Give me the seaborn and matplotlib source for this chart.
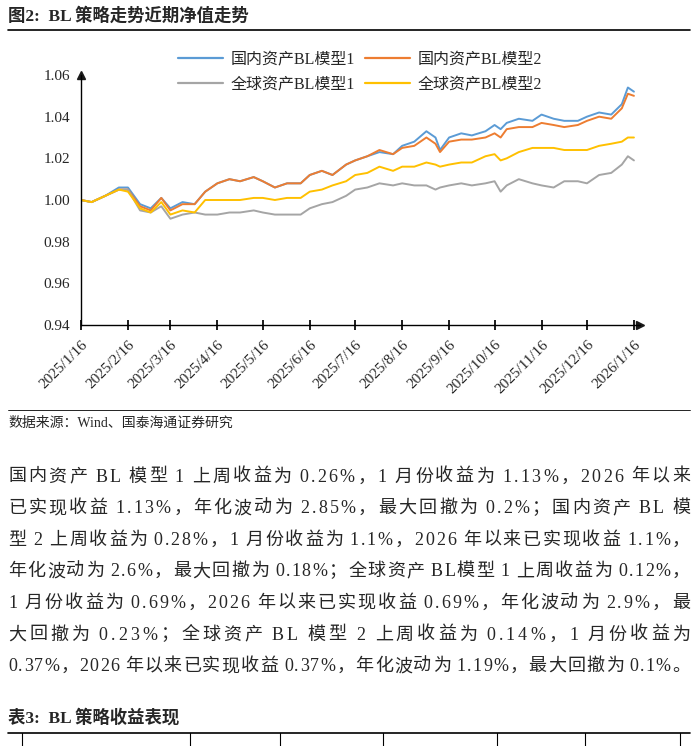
import matplotlib
matplotlib.use("Agg")
import matplotlib.pyplot as plt
import seaborn as sns
import pandas as pd

sns.set_theme(style="white")
plt.rcParams['font.family'] = ['Liberation Serif', 'Noto Sans CJK SC', 'DejaVu Sans']

dates = ["2025-01-16","2025-01-23","2025-02-01","2025-02-10","2025-02-16","2025-02-24","2025-03-03","2025-03-10",
"2025-03-16","2025-03-24","2025-04-01","2025-04-08","2025-04-16","2025-04-24","2025-05-01","2025-05-10","2025-05-16",
"2025-05-24","2025-06-01","2025-06-10","2025-06-16","2025-06-24","2025-07-01","2025-07-10","2025-07-16","2025-07-24",
"2025-08-01","2025-08-10","2025-08-16","2025-08-24","2025-09-01","2025-09-07","2025-09-10","2025-09-16","2025-09-24",
"2025-10-01","2025-10-10","2025-10-16","2025-10-20","2025-10-24","2025-11-01","2025-11-10","2025-11-16","2025-11-24",
"2025-12-01","2025-12-10","2025-12-16","2025-12-24","2026-01-01","2026-01-08","2026-01-12","2026-01-16"]
dom1 = [1.000,0.999,1.002,1.006,1.006,0.998,0.996,1.001,0.996,0.999,0.998,1.004,1.008,1.010,1.009,1.011,1.009,1.006,
1.008,1.008,1.012,1.014,1.012,1.017,1.019,1.021,1.023,1.022,1.026,1.028,1.033,1.030,1.024,1.030,1.032,1.031,1.033,
1.036,1.034,1.037,1.039,1.038,1.041,1.039,1.038,1.038,1.040,1.042,1.041,1.046,1.054,1.052]
dom2 = [1.000,0.999,1.002,1.005,1.005,0.997,0.995,1.001,0.995,0.998,0.998,1.004,1.008,1.010,1.009,1.011,1.009,1.006,
1.008,1.008,1.012,1.014,1.012,1.017,1.019,1.021,1.024,1.022,1.025,1.026,1.030,1.027,1.023,1.028,1.029,1.029,1.030,
1.032,1.030,1.034,1.035,1.035,1.037,1.036,1.035,1.036,1.038,1.040,1.039,1.044,1.051,1.050]
glb1 = [1.000,0.999,1.002,1.005,1.005,0.995,0.994,0.997,0.991,0.993,0.994,0.993,0.993,0.994,0.994,0.995,0.994,0.993,
0.993,0.993,0.996,0.998,0.999,1.002,1.005,1.006,1.008,1.007,1.008,1.007,1.007,1.005,1.006,1.007,1.008,1.007,1.008,
1.009,1.004,1.007,1.010,1.008,1.007,1.006,1.009,1.009,1.008,1.012,1.013,1.017,1.021,1.019]
glb2 = [1.000,0.999,1.002,1.005,1.004,0.996,0.994,0.999,0.993,0.995,0.994,1.000,1.000,1.000,1.000,1.001,1.001,1.000,
1.001,1.001,1.004,1.005,1.007,1.009,1.012,1.013,1.016,1.014,1.016,1.016,1.018,1.017,1.016,1.017,1.018,1.018,1.021,
1.022,1.019,1.020,1.023,1.025,1.025,1.025,1.024,1.024,1.024,1.026,1.027,1.028,1.030,1.030]
names = ["国内资产BL模型1","国内资产BL模型2","全球资产BL模型1","全球资产BL模型2"]
colors = ["#5B9BD5","#ED7D31","#A5A5A5","#FFC000"]
tick_labels = ["2025/1/16","2025/2/16","2025/3/16","2025/4/16","2025/5/16","2025/6/16","2025/7/16",
"2025/8/16","2025/9/16","2025/10/16","2025/11/16","2025/12/16","2026/1/16"]

rows = []
for n, vals in zip(names, [dom1, dom2, glb1, glb2]):
    for d, v in zip(dates, vals):
        rows.append({"date": pd.Timestamp(d), "value": v, "series": n})
df = pd.DataFrame(rows)

fig = plt.figure(figsize=(6.97, 7.46), dpi=100)
W, H = 697, 746
ax = fig.add_axes([81/W, 1-325/H, (640-81)/W, 250/H])
sns.lineplot(data=df, x="date", y="value", hue="series", palette=colors, hue_order=names,
             linewidth=1.4, ax=ax, legend=True)
ax.set_ylim(0.94, 1.06)
ax.set_yticks([0.94,0.96,0.98,1.00,1.02,1.04,1.06])
ax.set_yticklabels(["0.94","0.96","0.98","1.00","1.02","1.04","1.06"], fontsize=11)
tdates = [pd.Timestamp(t.replace("/", "-")) for t in tick_labels]
ax.set_xticks(tdates)
ax.set_xticklabels(tick_labels, rotation=45, ha="right", rotation_mode="anchor", fontsize=11)
ax.set_xlim(pd.Timestamp("2025-01-16"), pd.Timestamp("2026-01-20"))
ax.set_xlabel(""); ax.set_ylabel("")
for s in ["top", "right"]:
    ax.spines[s].set_visible(False)
for s in ["left", "bottom"]:
    ax.spines[s].set_color("black"); ax.spines[s].set_linewidth(1)
ax.tick_params(axis="x", direction="inout", length=7, color="black", bottom=True, pad=6)
ax.tick_params(axis="y", length=0, pad=8)
ax.plot(1, 0, ">k", transform=ax.transAxes, clip_on=False, markersize=6)
ax.plot(0, 1, "^k", transform=ax.transAxes, clip_on=False, markersize=6)
handles, labels = ax.get_legend_handles_labels()
order = [0, 2, 1, 3]
leg = ax.legend([handles[i] for i in order], [labels[i] for i in order],
                loc="center", bbox_to_anchor=(360/W, 1-72/H), bbox_transform=fig.transFigure,
                ncol=2, frameon=False, fontsize=11.5, handlelength=2.8, columnspacing=0.6,
                labelspacing=0.6, handletextpad=0.5)
for h in leg.get_lines():
    h.set_linewidth(1.6)

fig.text(8/W, 1-16/H, "图2:  BL 策略走势近期净值走势", fontsize=12.5, fontweight="bold", va="center")
fig.add_artist(plt.Line2D([8/W, 690/W], [1-30/H, 1-30/H], color="black", lw=1.2))
fig.add_artist(plt.Line2D([8/W, 690/W], [1-410/H, 1-410/H], color="black", lw=0.6))
fig.text(8/W, 1-423/H, "数据来源：Wind、国泰海通证券研究", fontsize=10, va="center")

lines = [
"国内资产 BL 模型 1 上周收益为 0.26%，1 月份收益为 1.13%，2026 年以来",
"已实现收益 1.13%，年化波动为 2.85%，最大回撤为 0.2%；国内资产 BL 模",
"型 2 上周收益为 0.28%，1 月份收益为 1.1%，2026 年以来已实现收益 1.1%，",
"年化波动为 2.6%，最大回撤为 0.18%；全球资产 BL模型 1 上周收益为 0.12%，",
"1 月份收益为 0.69%，2026 年以来已实现收益 0.69%，年化波动为 2.9%，最",
"大回撤为 0.23%；全球资产 BL 模型 2 上周收益为 0.14%，1 月份收益为",
"0.37%，2026 年以来已实现收益 0.37%，年化波动为 1.19%，最大回撤为 0.1%。",
]
renderer = fig.canvas.get_renderer()
left, right = 8, 690
for i, t in enumerate(lines):
    y = 1-(477+31.6*i)/H
    arts, widths = [], []
    for ch in t:
        a = fig.text(0, y, ch, fontsize=13, va="center")
        w = a.get_window_extent(renderer).width if ch != " " else 3.5
        arts.append(a); widths.append(w)
    total = sum(widths)
    gap = max(0.0, (right - left - total) / (len(t) - 1))
    xpos = left
    for a, w in zip(arts, widths):
        a.set_x(xpos / W)
        xpos += w + gap

fig.text(8/W, 1-718/H, "表3:  BL 策略收益表现", fontsize=12.5, fontweight="bold", va="center")
fig.add_artist(plt.Line2D([8/W, 690/W], [1-733/H, 1-733/H], color="black", lw=1.2))
for xp in [22, 190, 280, 383, 497, 585, 680]:
    fig.add_artist(plt.Line2D([xp/W, xp/W], [0, 1-733/H], color="black", lw=0.8))
fig.savefig("out.png", dpi=100)
